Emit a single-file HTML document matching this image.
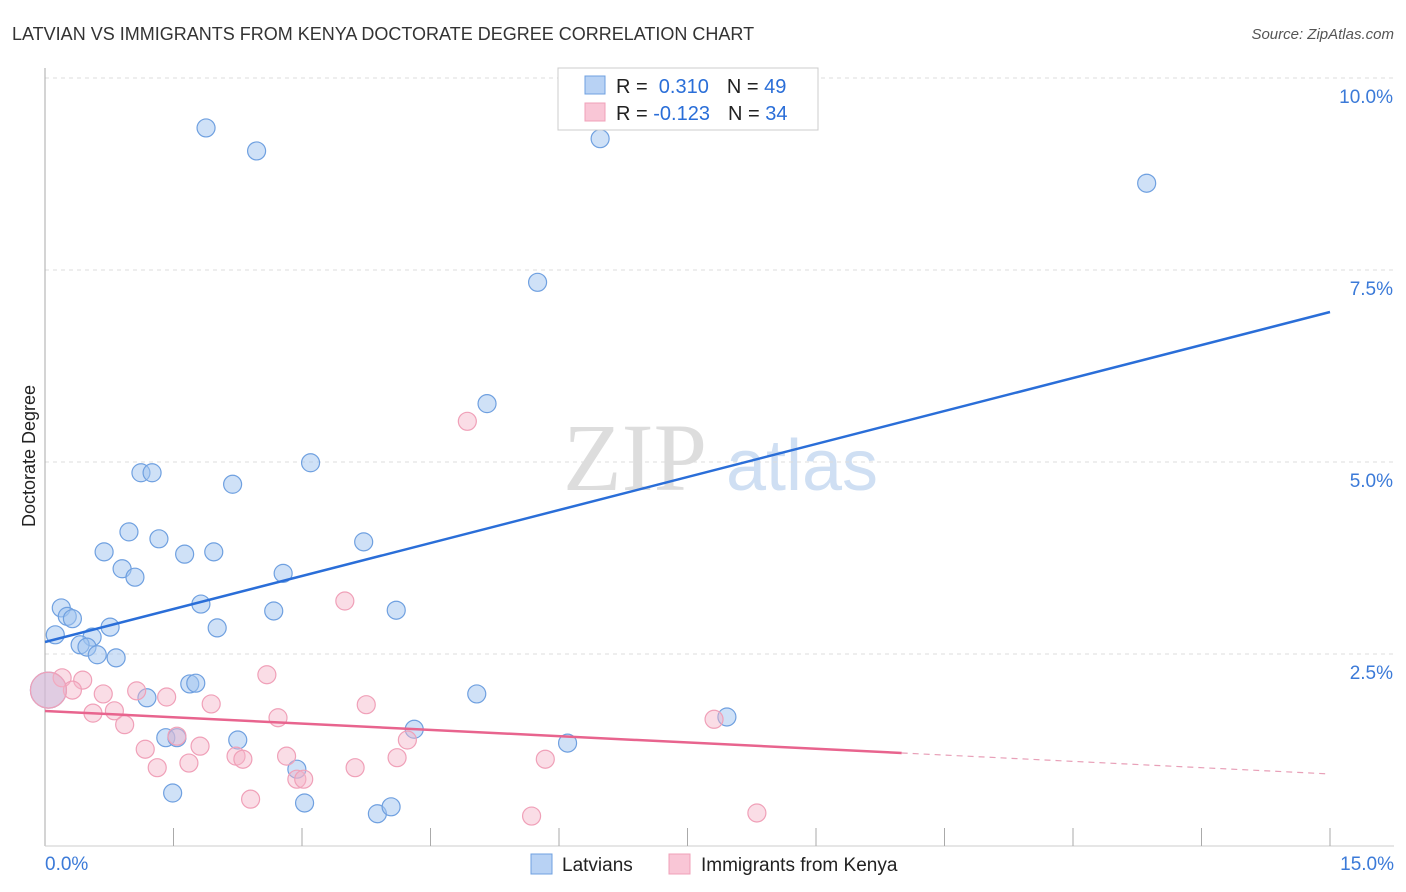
<!DOCTYPE html>
<html><head><meta charset="utf-8"><style>
body{margin:0;background:#fff;font-family:"Liberation Sans",sans-serif;}
svg{display:block}
</style></head><body>
<svg id="chart" width="1406" height="892" xmlns="http://www.w3.org/2000/svg">
<text x="12" y="40" font-size="18" fill="#333">LATVIAN VS IMMIGRANTS FROM KENYA DOCTORATE DEGREE CORRELATION CHART</text>
<text x="1394" y="39" font-size="15" fill="#555" font-style="italic" text-anchor="end">Source: ZipAtlas.com</text>
<text x="35" y="456" font-size="18" fill="#222" text-anchor="middle" transform="rotate(-90 35 456)">Doctorate Degree</text>
<g>
<text x="635" y="490" font-size="96" fill="#ddd" font-family="Liberation Serif,serif" text-anchor="middle">ZIP</text>
<text x="802" y="490" font-size="72" fill="#cfdff3" text-anchor="middle">atlas</text>
</g>
<g id="grid"></g>
<g id="axes"></g>
<g id="points"></g>
<g id="trends"></g>
<g>
<rect x="558" y="68" width="260" height="62" fill="#fff" stroke="#ccc"/>
<rect x="585" y="76" width="20" height="18" fill="#b8d2f4" stroke="#6fa0e0"/>
<rect x="585" y="103" width="20" height="18" fill="#f9c6d6" stroke="#f0a0b8"/>
<text x="616" y="93" font-size="20" fill="#222">R = <tspan fill="#2a6ed8">&#160;0.310</tspan><tspan dx="18" fill="#222">N = </tspan><tspan fill="#2a6ed8">49</tspan></text>
<text x="616" y="120" font-size="20" fill="#222">R = <tspan fill="#2a6ed8">-0.123</tspan><tspan dx="18" fill="#222">N = </tspan><tspan fill="#2a6ed8">34</tspan></text>
</g>
<g>
<rect x="531" y="854" width="21" height="20" fill="#b8d2f4" stroke="#6fa0e0"/>
<text x="562" y="871" font-size="19" fill="#222">Latvians</text>
<rect x="669" y="854" width="21" height="20" fill="#f9c6d6" stroke="#f0a0b8"/>
<text x="701" y="871" font-size="19" fill="#222">Immigrants from Kenya</text>
</g>
</svg>
<script>
const yTicks=[2.5,5.0,7.5,10.0];
const yTickLabels=["2.5%","5.0%","7.5%","10.0%"];
const xTickLabels=["0.0%","15.0%"];
const latX=[1.88,2.47,6.48,12.86,5.75,5.16,3.10,1.12,1.25,2.19,0.98,1.33,0.69,1.63,1.97,3.72,0.90,1.05,2.78,0.19,0.26,0.32,1.82,2.67,4.10,0.76,2.01,0.12,0.55,0.41,0.49,0.61,0.83,1.19,1.69,1.76,5.04,7.96,4.31,1.41,1.54,2.25,6.10,2.94,1.49,3.03,3.88,4.04,0.04];
const latY=[9.35,9.05,9.21,8.63,7.34,5.76,4.99,4.86,4.86,4.71,4.09,4.00,3.83,3.80,3.83,3.96,3.61,3.50,3.55,3.10,2.99,2.96,3.15,3.06,3.07,2.85,2.84,2.75,2.72,2.62,2.59,2.49,2.45,1.93,2.11,2.12,1.98,1.68,1.52,1.41,1.41,1.38,1.34,1.00,0.69,0.56,0.42,0.51,2.03];
const kenX=[4.93,3.50,2.59,0.20,0.44,0.32,0.68,1.07,1.42,1.94,0.56,0.81,0.93,2.72,3.75,7.81,1.17,1.54,1.81,1.31,1.68,2.23,2.31,2.82,4.23,3.62,4.11,5.84,2.94,3.02,2.40,5.68,8.31,0.04];
const kenY=[5.53,3.19,2.23,2.19,2.16,2.03,1.98,2.02,1.94,1.85,1.73,1.76,1.58,1.67,1.84,1.65,1.26,1.43,1.30,1.02,1.08,1.17,1.13,1.17,1.38,1.02,1.15,1.13,0.87,0.87,0.61,0.39,0.43,2.03];
const latTrend=[2.656,6.953];
const kenTrend=[1.758,0.938];
const kenSolidEnd=10;
const NS="http://www.w3.org/2000/svg";
const sx=v=>45+v/15*1285;
const sy=v=>846-v/2.5*192;
function mk(tag,attrs,parent){const e=document.createElementNS(NS,tag);for(const k in attrs)e.setAttribute(k,attrs[k]);parent.appendChild(e);return e;}
const grid=document.getElementById('grid'),axes=document.getElementById('axes'),pts=document.getElementById('points'),tr=document.getElementById('trends');
yTicks.forEach((t,i)=>{
 const l=mk('line',{x1:45,x2:1394,y1:sy(t),y2:sy(t),stroke:'#ddd','stroke-dasharray':'4,4'},grid);
 
 
 const tx=mk('text',{x:1393,y:sy(t)+25,'font-size':19,fill:'#3b7ad8','text-anchor':'end'},axes);
 tx.textContent=yTickLabels[i];
 
 
});
const ax=mk('line',{x1:45,x2:45,y1:68,y2:846,stroke:'#aaa'},axes);


const bx=mk('line',{x1:45,x2:1394,y1:846,y2:846,stroke:'#ccc'},axes);


for(let k=1;k<=10;k++){const x=sx(k*1.5);
 const t=mk('line',{x1:x,x2:x,y1:828,y2:846,stroke:'#aaa'},axes);
 
 }
[[0,'start',45],[15,'end',1394]].forEach((d,i)=>{
 const t=mk('text',{x:d[2],y:870,'font-size':19,fill:'#3b7ad8','text-anchor':d[1]},axes);
 t.textContent=xTickLabels[i];
 
 });
function dots(X,Y,fill,stroke,name){X.forEach((x,i)=>{
 const big=i===X.length-1;
 const c=mk('circle',{cx:sx(x),cy:sy(Y[i]),r:big?18:9,fill:fill,stroke:stroke,'stroke-width':1.2},pts);
 
 });}
dots(latX,latY,'rgba(160,196,240,0.5)','#6fa0e0','point-latvians');
dots(kenX,kenY,'rgba(245,180,200,0.45)','#f0a0b8','point-kenya');
const lb=mk('line',{x1:sx(0),y1:sy(latTrend[0]),x2:sx(15),y2:sy(latTrend[1]),stroke:'#2a6ed8','stroke-width':2.5},tr);


const kmid=kenTrend[0]+(kenTrend[1]-kenTrend[0])*kenSolidEnd/15;
const lk=mk('line',{x1:sx(0),y1:sy(kenTrend[0]),x2:sx(kenSolidEnd),y2:sy(kmid),stroke:'#e8648e','stroke-width':2.5},tr);


const lk2=mk('line',{x1:sx(kenSolidEnd),y1:sy(kmid),x2:sx(15),y2:sy(kenTrend[1]),stroke:'#e8a0b8','stroke-width':1.2,'stroke-dasharray':'6,5'},tr);


</script>
</body></html>
